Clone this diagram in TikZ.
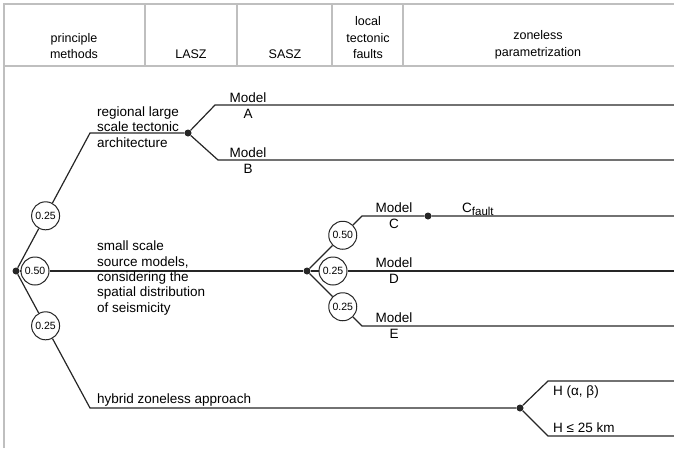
\documentclass[tikz,border=0pt]{standalone}
\usepackage{fontspec}
\setmainfont{Liberation Sans}
\usetikzlibrary{calc}

\begin{document}
\begin{tikzpicture}[x=1pt,y=-1pt,
  frame/.style={draw=gray!50, line width=2pt},
  branch/.style={draw=black!85, line width=1.2pt},
  knot/.style={circle, fill=black!85, inner sep=0pt, minimum size=7pt},
  weight/.style={circle, draw=black!85, line width=1pt, fill=white, inner sep=0pt, minimum size=28pt, font=\fontsize{10.5}{12}\selectfont},
  head/.style={align=center, anchor=south, inner sep=0pt, font=\fontsize{12.5}{16.5}\selectfont},
  model/.style={align=center, inner sep=0pt, font=\fontsize{13.5}{16}\selectfont},
  txt/.style={align=left, anchor=west, inner sep=0pt, font=\fontsize{13.5}{15.3}\selectfont}]

\useasboundingbox (0,0) rectangle (674,448);

% header
\draw[frame] (4,448) -- (4,4) -- (674,4);
\draw[frame] (4,66) -- (674,66);
\foreach \x in {145,237,332,403} \draw[frame] (\x,4) -- (\x,66);
\node[head] (hpm) at (74,59) {principle\\methods};
\node[head] (hla) at (191,59) {LASZ};
\node[head] (hsa) at (285,59) {SASZ};
\node[head] (hlf) at (368,59) {local\\tectonic\\faults};
\node[head] (hzp) at (538,59) {zoneless\\parametrization};

% principle methods
\node[knot] (root) at (16,271) {};
\coordinate (c1) at (90,133);
\coordinate (c3) at (90,408);
\node[weight] (w1) at ($(root)!0.4!(c1)$) {0.25};
\node[weight] (w2) at (35,271) {0.50};
\node[weight] (w3) at ($(root)!0.4!(c3)$) {0.25};
\node[knot] (nla) at (188,133) {};
\node[knot] (nsa) at (307,271) {};
\node[knot] (nzl) at (520,408) {};
\draw[branch] (root) -- (w1) -- (c1) -- (nla);
\draw[branch] (root) -- (w2) -- (nsa);
\draw[branch] (root) -- (w3) -- (c3) -- (nzl);
\node[txt] (tla) at (97,127) {regional large\\scale tectonic\\architecture};
\node[txt] (tsa) at (97,278) {small scale\\source models,\\considering the\\spatial distribution\\of seismicity};
\node[txt] (tzl) at (97,400) {hybrid zoneless approach};

% LASZ
\coordinate (a1) at (215,105); \coordinate (a2) at (674,105);
\coordinate (b1) at (218,160); \coordinate (b2) at (674,160);
\draw[branch] (nla) -- (a1) -- (a2);
\draw[branch] (nla) -- (b1) -- (b2);
\node[model] (ma) at (248,106) {Model\\A};
\node[model] (mb) at (248,161) {Model\\B};

% SASZ and faults
\coordinate (cc1) at (362,216); \coordinate (cc2) at (674,216);
\coordinate (dd2) at (674,271);
\coordinate (ee1) at (362,326); \coordinate (ee2) at (674,326);
\node[weight] (w4) at ($(nsa)!0.65!(cc1)$) {0.50};
\node[weight] (w5) at (333,271) {0.25};
\node[weight] (w6) at ($(nsa)!0.65!(ee1)$) {0.25};
\node[knot] (nfc) at (428,216) {};
\draw[branch] (nsa) -- (w4) -- (cc1) -- (nfc) -- (cc2);
\draw[branch] (nsa) -- (w5) -- (dd2);
\draw[branch] (nsa) -- (w6) -- (ee1) -- (ee2);
\node[model] (mc) at (394,216) {Model\\C};
\node[model] (md) at (394,271) {Model\\D};
\node[model] (me) at (394,326) {Model\\E};
\node[txt, anchor=base west] (cf) at (462,212) {C\textsubscript{\fontsize{11.5}{12}\selectfont fault}};

% zoneless
\coordinate (h1) at (548,381); \coordinate (h2) at (674,381);
\coordinate (k1) at (548,436); \coordinate (k2) at (674,436);
\draw[branch] (nzl) -- (h1) -- (h2);
\draw[branch] (nzl) -- (k1) -- (k2);
\node[txt] (hab) at (553,392) {H (α, β)};
\node[txt] (hkm) at (553,428) {H ≤ 25 km};
\end{tikzpicture}
\end{document}
